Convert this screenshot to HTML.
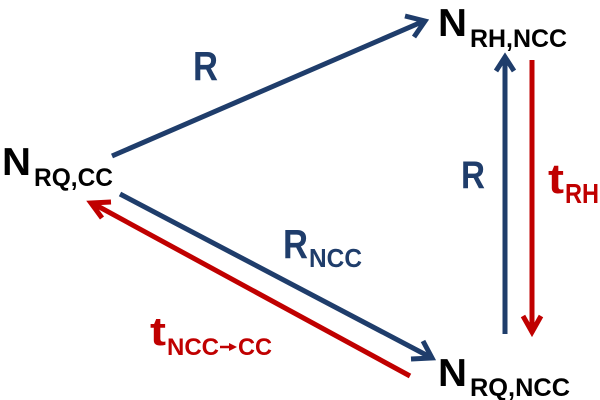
<!DOCTYPE html>
<html><head><style>html,body{margin:0;padding:0;background:#fff;width:600px;height:400px;overflow:hidden}</style></head>
<body>
<svg width="600" height="400" viewBox="0 0 600 400" xmlns="http://www.w3.org/2000/svg" font-family="Liberation Sans, sans-serif" font-weight="bold">
<g stroke="#1f3d6b" stroke-width="5" fill="none" stroke-linecap="butt">
<line x1="112" y1="156" x2="424" y2="21"/>
<polyline points="405,16 425,21 414,37"/>
<line x1="120" y1="194" x2="430" y2="357"/>
<polyline points="411,359 432,358 423,341"/>
<line x1="505" y1="334" x2="505" y2="58"/>
<polyline points="496,71 505,57 514,71"/>
</g>
<g stroke="#c00000" stroke-width="5" fill="none">
<line x1="410" y1="376" x2="92" y2="203"/>
<polyline points="111,202 91,203 102,218"/>
<line x1="532" y1="60" x2="532" y2="333"/>
<polyline points="523,316 532,332 541,316"/>
</g>
<g fill="#000">
<text x="2" y="175" font-size="39" textLength="29" lengthAdjust="spacingAndGlyphs">N</text>
<text x="34" y="186" font-size="25" textLength="79" lengthAdjust="spacingAndGlyphs">RQ,CC</text>
<text x="438" y="36" font-size="39" textLength="29" lengthAdjust="spacingAndGlyphs">N</text>
<text x="470" y="47" font-size="25" textLength="97" lengthAdjust="spacingAndGlyphs">RH,NCC</text>
<text x="438" y="386" font-size="39" textLength="29" lengthAdjust="spacingAndGlyphs">N</text>
<text x="470" y="396" font-size="25" textLength="100" lengthAdjust="spacingAndGlyphs">RQ,NCC</text>
</g>
<g fill="#1f3d6b">
<text x="193" y="80" font-size="41" textLength="25" lengthAdjust="spacingAndGlyphs">R</text>
<text x="283" y="258" font-size="41" textLength="25" lengthAdjust="spacingAndGlyphs">R</text>
<text x="309" y="267" font-size="26" textLength="53" lengthAdjust="spacingAndGlyphs">NCC</text>
<text x="461" y="188" font-size="39" textLength="24" lengthAdjust="spacingAndGlyphs">R</text>
</g>
<g fill="#c00000">
<text x="548" y="193" font-size="42" textLength="16" lengthAdjust="spacingAndGlyphs">t</text>
<text x="565" y="203" font-size="28" textLength="34" lengthAdjust="spacingAndGlyphs">RH</text>
<text x="150" y="345" font-size="40" textLength="16" lengthAdjust="spacingAndGlyphs">t</text>
<text x="167" y="355" font-size="24" textLength="52" lengthAdjust="spacingAndGlyphs">NCC</text>
<line x1="220" y1="347" x2="232" y2="347" stroke="#c00000" stroke-width="2.5"/>
<polygon points="229,343 237,347 229,351"/>
<text x="238" y="355" font-size="24" textLength="34" lengthAdjust="spacingAndGlyphs">CC</text>
</g>
</svg>
</body></html>
